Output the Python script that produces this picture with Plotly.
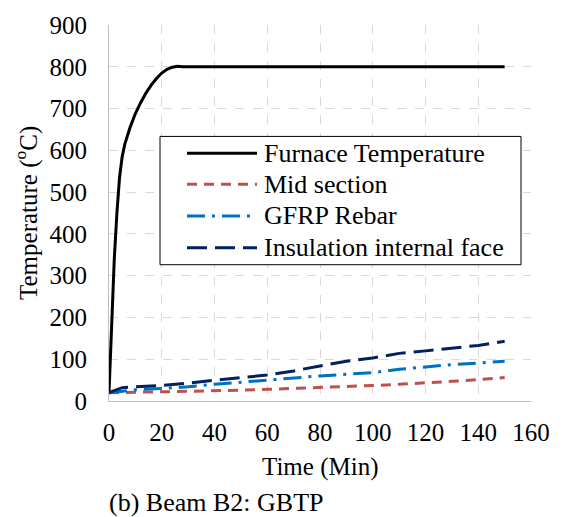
import plotly.graph_objects as go

# ---------------- data ----------------
furnace_t = [0, 1, 2, 3, 4, 5, 6, 8, 10, 12, 14, 16, 18, 20, 22, 24, 26, 28, 150]
furnace_T = [20, 200, 340, 450, 535, 585, 615, 655, 688, 714, 737, 756, 772, 785, 794, 799, 801, 800, 800]

t = [0, 5, 10, 20, 30, 40, 50, 60, 70, 80, 90, 100, 110, 120, 130, 140, 150]
mid_T = [20, 21, 21, 22, 23, 24, 26, 28, 30, 32, 34, 37, 40, 43, 47, 51, 56]
gfrp_T = [20, 24, 27, 30, 34, 40, 45, 51, 55, 60, 64, 68, 76, 82, 87, 91, 95]
ins_T = [20, 32, 34, 37, 43, 50, 56, 62, 72, 84, 95, 103, 114, 120, 126, 133, 143]

names = ["Furnace Temperature", "Mid section", "GFRP Rebar", "Insulation internal face"]
colors = ["#000000", "#c0504d", "#0070c0", "#002060"]
dashes = ["solid", "10px,7px", "18px,7px,3px,7px", "20px,8px"]

x_ticks = [0, 20, 40, 60, 80, 100, 120, 140, 160]
y_ticks = [0, 100, 200, 300, 400, 500, 600, 700, 800, 900]

FONT = "Liberation Serif, Times New Roman, Times, serif"
W, H = 563, 517
L, R, T, B = 109, 32, 23, 116
PW, PH = W - L - R, H - T - B


def px(x):
    return (x - L) / PW


def py(y):
    return (H - B - y) / PH


fig = go.Figure()
series = [(furnace_t, furnace_T), (t, mid_T), (t, gfrp_T), (t, ins_T)]
for (xs, ys), n, c, d in zip(series, names, colors, dashes):
    fig.add_trace(go.Scatter(x=xs, y=ys, mode="lines", name=n,
                             line=dict(color=c, width=3, dash=d),
                             showlegend=False))

axis_common = dict(
    showgrid=True, gridcolor="#d9d9d9", griddash="dash", gridwidth=1,
    showline=True, linecolor="#bfbfbf", linewidth=1,
    zeroline=False, ticks="",
    tickfont=dict(family=FONT, size=25, color="#000"),
)
fig.update_xaxes(range=[0, 160], tickvals=x_ticks, ticklabelstandoff=9, **axis_common)
fig.update_yaxes(range=[0, 900], tickvals=y_ticks, ticklabelstandoff=16, **axis_common)

shapes = []
annotations = []
# legend box
shapes.append(dict(type="rect", xref="paper", yref="paper",
                   x0=px(160), x1=px(521), y0=py(264), y1=py(135),
                   line=dict(color="#000", width=1), fillcolor="white", layer="above"))
rows = [152, 183, 215, 247]
for n, c, d, ry in zip(names, colors, dashes, rows):
    shapes.append(dict(type="line", xref="paper", yref="paper",
                       x0=px(187), x1=px(257), y0=py(ry), y1=py(ry),
                       line=dict(color=c, width=3, dash=d), layer="above"))
    annotations.append(dict(text=n, xref="paper", yref="paper", x=px(262), y=py(ry),
                            xanchor="left", yanchor="middle", showarrow=False,
                            font=dict(family=FONT, size=26, color="#000")))

annotations.append(dict(text="Time (Min)", xref="paper", yref="paper",
                        x=px(320), y=py(467), xanchor="center", yanchor="middle",
                        showarrow=False, font=dict(family=FONT, size=25, color="#000")))
annotations.append(dict(text="Temperature (<sup>o</sup>C)", xref="paper", yref="paper",
                        x=px(26), y=py(212), xanchor="center", yanchor="middle",
                        textangle=-90, showarrow=False,
                        font=dict(family=FONT, size=25, color="#000")))
annotations.append(dict(text="(b) Beam B2: GBTP", xref="paper", yref="paper",
                        x=px(107), y=py(503), xanchor="left", yanchor="middle",
                        showarrow=False, font=dict(family=FONT, size=26, color="#000")))

fig.update_layout(width=W, height=H, margin=dict(l=L, r=R, t=T, b=B),
                  plot_bgcolor="white", paper_bgcolor="white",
                  shapes=shapes, annotations=annotations, showlegend=False)

fig.write_html("out.html")
